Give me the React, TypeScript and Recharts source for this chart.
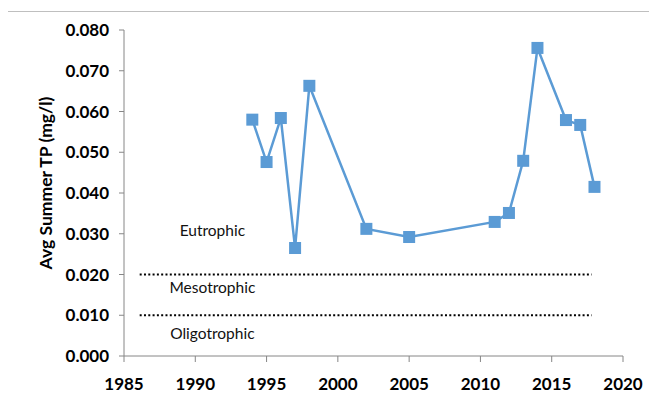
import React from "react";
import {
    LineChart,
    Line,
    XAxis,
    YAxis,
    ReferenceLine,
    ReferenceDot,
} from "recharts";

// values
const years = [1994, 1995, 1996, 1997, 1998, 2002, 2005, 2011, 2012, 2013, 2014, 2016, 2017, 2018];
const tpValues = [0.058, 0.0476, 0.0584, 0.0265, 0.0663, 0.0312, 0.0292, 0.0329, 0.0351, 0.0479, 0.0756, 0.0579, 0.0567, 0.0415];

const xTicks = [1985, 1990, 1995, 2000, 2005, 2010, 2015, 2020];
const yTicks = [0, 0.01, 0.02, 0.03, 0.04, 0.05, 0.06, 0.07, 0.08];

// trophic thresholds and zone labels
const thresholds = [0.02, 0.01];
const zoneLabels = [
    { name: "Eutrophic", year: 1991.2, tp: 0.0307 },
    { name: "Mesotrophic", year: 1991.2, tp: 0.0167 },
    { name: "Oligotrophic", year: 1991.2, tp: 0.0056 },
];

const data = years.map((y, i) => ({ year: y, tp: tpValues[i] }));

const blue = "#5B9BD5";
const axisGray = "#868686";
const font = "Lato, 'Open Sans', sans-serif";

const SquareDot = (props: any) => {
    const { cx, cy } = props;
    if (cx == null || cy == null) return null;
    return <rect x={cx - 6} y={cy - 6} width={12} height={12} fill={blue} />;
};

export default function App() {
    return (
        <div style={{ position: "relative", width: 657, height: 401, margin: -8, overflow: "hidden", background: "#fff", fontFamily: font }}>
            <div style={{ position: "absolute", left: 10, top: -18, fontSize: 22, lineHeight: "22px", color: "#000", whiteSpace: "nowrap" }}>
                Surface Phosphorus
            </div>
            <div style={{ position: "absolute", left: 7, top: 11, width: 700, height: 500, borderTop: "1.5px solid #BFBFBF", borderLeft: "1.5px solid #BFBFBF" }} />
            <div style={{ position: "absolute", left: 0, top: 0 }}>
                <LineChart width={657} height={401} data={data} margin={{ top: 30, right: 34, bottom: 0, left: 0 }}>
                    <XAxis
                        dataKey="year"
                        type="number"
                        domain={[1985, 2020]}
                        ticks={xTicks}
                        height={45}
                        stroke={axisGray}
                        tickSize={6}
                        tick={{ fill: "#000", fontSize: 17, fontWeight: 700, fontFamily: font }}
                        tickMargin={16}
                        interval={0}
                    />
                    <YAxis
                        type="number"
                        domain={[0, 0.08]}
                        ticks={yTicks}
                        width={124}
                        stroke={axisGray}
                        tickSize={5}
                        tickMargin={10}
                        tickFormatter={(v: number) => v.toFixed(3)}
                        tick={{ fill: "#000", fontSize: 17, fontWeight: 700, fontFamily: font }}
                        interval={0}
                        label={{
                            content: () => (
                                <text
                                    x={52}
                                    y={183}
                                    transform="rotate(-90 52 183)"
                                    textAnchor="middle"
                                    fontSize={17.5}
                                    fontWeight={700}
                                    fontFamily={font}
                                    fill="#000"
                                >
                                    Avg Summer TP (mg/l)
                                </text>
                            ),
                        }}
                    />
                    {thresholds.map((t) => (
                        <ReferenceLine
                            key={t}
                            segment={[{ x: 1986.1, y: t }, { x: 2017.8, y: t }]}
                            stroke="#000"
                            strokeWidth={2}
                            strokeDasharray="2 2.3"
                        />
                    ))}
                    {zoneLabels.map((z) => (
                        <ReferenceDot
                            key={z.name}
                            x={z.year}
                            y={z.tp}
                            r={0}
                            fill="none"
                            stroke="none"
                            label={{ value: z.name, position: "center", fill: "#111", fontSize: 15.5, fontFamily: font }}
                        />
                    ))}
                    <Line
                        dataKey="tp"
                        stroke={blue}
                        strokeWidth={2.5}
                        dot={<SquareDot />}
                        activeDot={false}
                        isAnimationActive={false}
                    />
                </LineChart>
            </div>
        </div>
    );
}
